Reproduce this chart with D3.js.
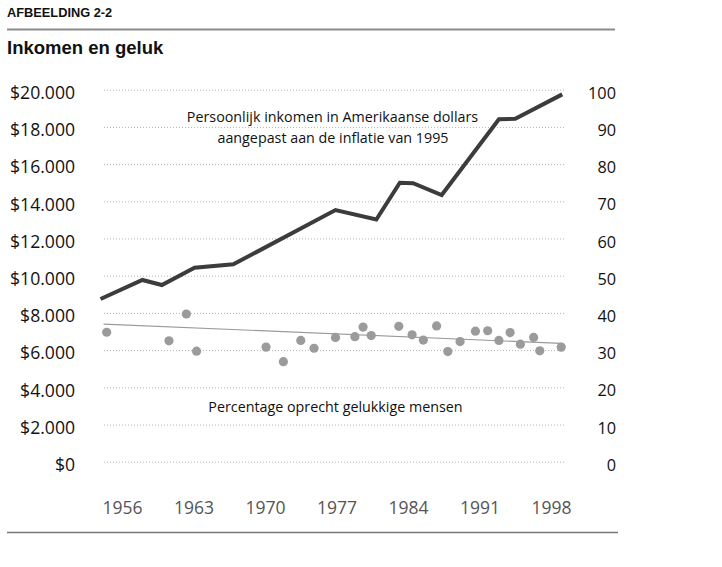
<!DOCTYPE html>
<html>
<head>
<meta charset="utf-8">
<script src="https://cdn.jsdelivr.net/npm/d3@7"></script>
<style>
  html, body { margin: 0; padding: 0; background: #fff; }
  svg { display: block; }
  .tick line { stroke: #b5b5b5; stroke-width: 1; stroke-dasharray: 1 2; }
  .domain { display: none; }
</style>
</head>
<body>
<svg id="chart" width="722" height="567"></svg>
<script>
// ---- data ----
const incomeYears  = [1953.9, 1958.0, 1959.9, 1963.1, 1966.9, 1976.9, 1980.9, 1983.2, 1984.5, 1987.3, 1992.9, 1994.5, 1999.1];
const incomeValues = [8750, 9770, 9500, 10430, 10610, 13530, 13020, 15000, 14970, 14340, 18410, 18440, 19750];

const happyYears  = [1954.5, 1960.6, 1962.3, 1963.3, 1970.1, 1971.8, 1973.5, 1974.8, 1976.9, 1978.8, 1979.6, 1980.4, 1983.1, 1984.4, 1985.5, 1986.8, 1987.9, 1989.1, 1990.6, 1991.8, 1992.9, 1994.0, 1995.0, 1996.3, 1996.9, 1999.0];
const happyValues = [34.8, 32.5, 39.7, 29.7, 30.8, 26.9, 32.6, 30.5, 33.4, 33.6, 36.2, 33.9, 36.4, 34.1, 32.7, 36.5, 29.6, 32.3, 35.1, 35.2, 32.6, 34.7, 31.6, 33.4, 29.8, 30.8];

const trendYears  = [1954.2, 1999.0];
const trendValues = [37.0, 31.8];

const leftTicks  = [0, 2000, 4000, 6000, 8000, 10000, 12000, 14000, 16000, 18000, 20000];
const rightTicks = [0, 10, 20, 30, 40, 50, 60, 70, 80, 90, 100];
const yearTicks  = [1956, 1963, 1970, 1977, 1984, 1991, 1998];

const supTitle = "AFBEELDING 2-2";
const title = "Inkomen en geluk";
const incomeLabel = ["Persoonlijk inkomen in Amerikaanse dollars", "aangepast aan de inflatie van 1995"];
const happyLabel = "Percentage oprecht gelukkige mensen";

// ---- layout ----
const svg = d3.select("#chart");
const FONT = "'Open Sans', sans-serif";
const gridLeft = 104, gridRight = 564;

const x  = d3.scaleLinear().domain([1956, 1998]).range([122, 551]);
const yL = d3.scaleLinear().domain([0, 20000]).range([461.7, 89.7]);
const yR = d3.scaleLinear().domain([0, 100]).range([461.7, 89.7]);

const nl = d3.formatLocale({decimal: ",", thousands: ".", grouping: [3], currency: ["$", ""]});
const fmt = nl.format("$,");

// header
svg.append("text").attr("x", 7).attr("y", 17.3)
  .attr("font-family", "'Liberation Sans', Arial, sans-serif").attr("font-weight", "bold")
  .attr("font-size", 12.8).attr("fill", "#111").text(supTitle);
svg.append("line").attr("x1", 7).attr("x2", 615).attr("y1", 29.5).attr("y2", 29.5)
  .attr("stroke", "#8c8c8c").attr("stroke-width", 2);
svg.append("text").attr("x", 7).attr("y", 54)
  .attr("font-family", "'Liberation Sans', Arial, sans-serif").attr("font-weight", "bold")
  .attr("font-size", 18.5).attr("fill", "#111").text(title);

// left axis with grid
const gL = svg.append("g").attr("transform", `translate(${gridLeft},0)`)
  .call(d3.axisLeft(yL).tickValues(leftTicks).tickFormat(fmt)
    .tickSizeInner(-(gridRight - gridLeft)).tickSizeOuter(0).tickPadding(29));
gL.selectAll("text").attr("font-family", FONT).attr("font-size", 17.6).attr("fill", "#111")
  .attr("dy", "0.5em").attr("x", -29);

// right axis
const gR = svg.append("g").attr("transform", "translate(616,0)")
  .call(d3.axisRight(yR).tickValues(rightTicks).tickSize(0).tickPadding(0));
gR.selectAll("text").attr("font-family", FONT).attr("font-size", 16.3).attr("fill", "#111")
  .attr("text-anchor", "end").attr("x", 0).attr("dy", "0.53em");

// bottom axis
const gB = svg.append("g").attr("transform", "translate(0,514)")
  .call(d3.axisBottom(x).tickValues(yearTicks).tickFormat(d3.format("d")).tickSize(0).tickPadding(0));
gB.selectAll("text").attr("font-family", FONT).attr("font-size", 17.5).attr("fill", "#555")
  .attr("y", 0).attr("dy", 0);

// income line
svg.append("path")
  .datum(incomeYears.map((yr, i) => [yr, incomeValues[i]]))
  .attr("fill", "none").attr("stroke", "#3c3c3c").attr("stroke-width", 4)
  .attr("d", d3.line().x(d => x(d[0])).y(d => yL(d[1])));

// trend line
svg.append("path")
  .datum(trendYears.map((yr, i) => [yr, trendValues[i]]))
  .attr("fill", "none").attr("stroke", "#9a9a9a").attr("stroke-width", 1.2)
  .attr("d", d3.line().x(d => x(d[0])).y(d => yR(d[1])));

// happiness dots
svg.append("g").selectAll("circle")
  .data(happyYears.map((yr, i) => [yr, happyValues[i]]))
  .join("circle")
  .attr("cx", d => x(d[0])).attr("cy", d => yR(d[1])).attr("r", 4.6)
  .attr("fill", "#9b9b9b");

// annotations
const annSize = 14.3;
svg.append("text").attr("x", 332.5).attr("y", 121.7).attr("text-anchor", "middle")
  .attr("font-family", FONT).attr("font-size", annSize).attr("fill", "#111").text(incomeLabel[0]);
svg.append("text").attr("x", 333).attr("y", 142.7).attr("text-anchor", "middle")
  .attr("font-family", FONT).attr("font-size", annSize).attr("fill", "#111").text(incomeLabel[1]);
svg.append("text").attr("x", 335.5).attr("y", 411.7).attr("text-anchor", "middle")
  .attr("font-family", FONT).attr("font-size", annSize).attr("fill", "#111").text(happyLabel);

// bottom rule
svg.append("line").attr("x1", 7).attr("x2", 618).attr("y1", 532.5).attr("y2", 532.5)
  .attr("stroke", "#777").attr("stroke-width", 1.6);
</script>
</body>
</html>
